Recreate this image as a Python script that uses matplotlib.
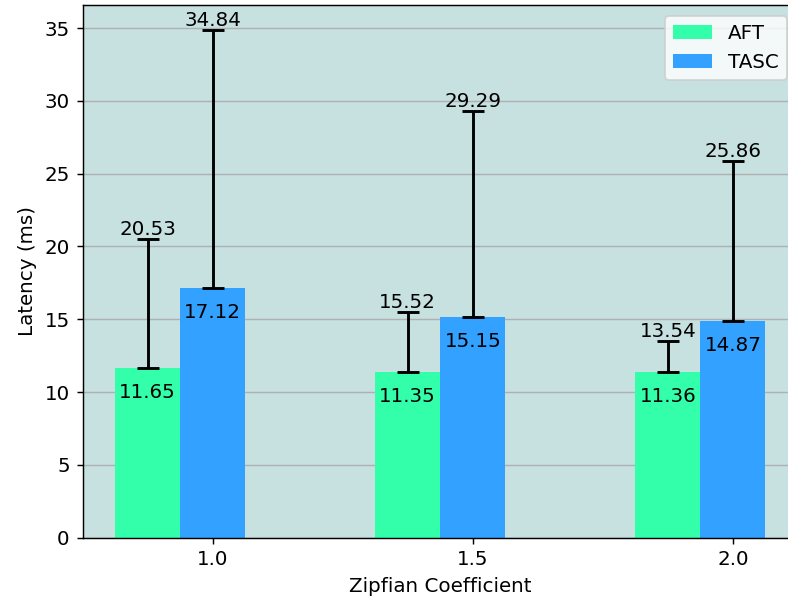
import numpy as np
import matplotlib
matplotlib.use('Agg')
import matplotlib.pyplot as plt

coeffs = ['1.0', '1.5', '2.0']
aft_mean = [11.65, 11.35, 11.36]
aft_upper = [20.53, 15.52, 13.54]
tasc_mean = [17.12, 15.15, 14.87]
tasc_upper = [34.84, 29.29, 25.86]

x = np.arange(len(coeffs))
w = 0.25

plt.rcParams['font.size'] = 11

fig = plt.figure(figsize=(788 / 130, 601 / 130), dpi=130)
ax = fig.add_axes([82.5 / 788, 1 - 537.7 / 601, 715.5 / 788, 532.7 / 601])
ax.set_facecolor('#c7e1e1')
ax.set_axisbelow(True)
ax.yaxis.grid(True, color='#b0b0b0')

aft_err = [np.zeros(3), np.array(aft_upper) - np.array(aft_mean)]
tasc_err = [np.zeros(3), np.array(tasc_upper) - np.array(tasc_mean)]

ax.bar(x, aft_mean, w, color='#33ffaa', label='AFT',
       yerr=aft_err, capsize=6, error_kw={'elinewidth': 1.6, 'capthick': 1.6})
ax.bar(x + w, tasc_mean, w, color='#33a1ff', label='TASC',
       yerr=tasc_err, capsize=6, error_kw={'elinewidth': 1.6, 'capthick': 1.6})

for xs, means, ups in [(x, aft_mean, aft_upper), (x + w, tasc_mean, tasc_upper)]:
    for xi, m, u in zip(xs, means, ups):
        ax.text(xi, m - 1, f'{m:.2f}', ha='center', va='top')
        ax.text(xi, u, f'{u:.2f}', ha='center', va='bottom')

ax.set_xticks(x + w)
ax.set_xticklabels(coeffs)
ax.set_xlabel('Zipfian Coefficient')
ax.set_ylabel('Latency (ms)')
ax.legend(loc='upper right', bbox_to_anchor=(0.9846, 0.9794), borderaxespad=0)

fig.savefig('out.png', dpi=130)
